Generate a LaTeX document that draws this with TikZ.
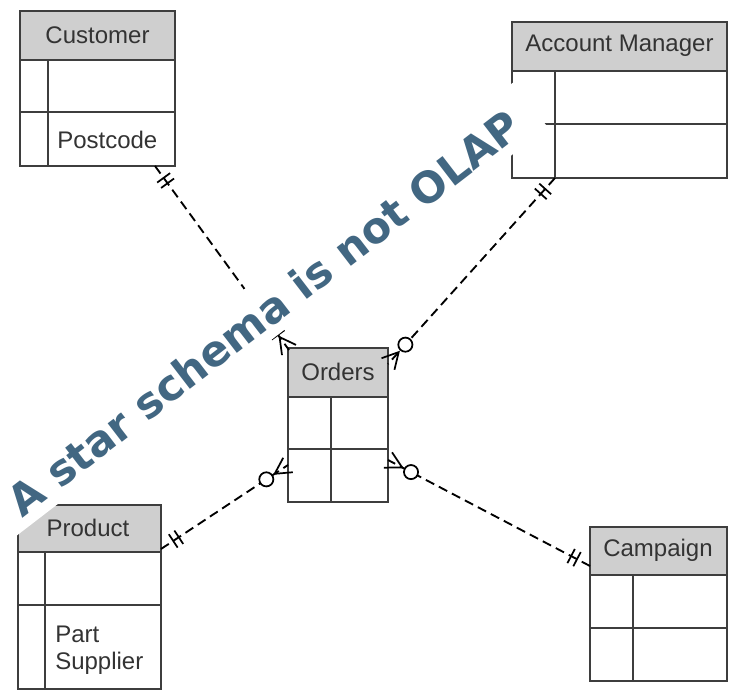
\documentclass[tikz,border=0pt]{standalone}
\usepackage{fontspec}
\setmainfont{Liberation Sans}
\newfontfamily\bannerfont{DejaVu Sans}
\usepackage{xcolor}
\usepackage{tikz}
\usetikzlibrary{calc}

\definecolor{headgray}{RGB}{207,207,207}
\definecolor{edgegray}{RGB}{62,62,62}
\definecolor{bannerblue}{RGB}{66,103,130}

\tikzset{
  entity/.style={draw=edgegray, line width=1.1pt},
  headfill/.style={fill=headgray},
  headtext/.style={text=black!80, font=\fontsize{18pt}{21pt}\selectfont, inner sep=0.75pt},
  attrtext/.style={headtext, anchor=west},
  rel/.style={line width=1.4pt, dash pattern=on 7pt off 4pt},
  crowline/.style={line width=1.3pt, solid},
  banner/.style={fill=white, inner xsep=16pt, inner ysep=1pt, text=bannerblue,
    text height=34pt, text depth=6.5pt,
    font=\bannerfont\bfseries\fontsize{32pt}{38pt}\selectfont}
}

% double bar ("exactly one") near #1 on the line #1 -- #2
\newcommand{\oneMark}[2]{%
  \foreach \d in {11pt,16pt}{%
    \coordinate (t) at ($(#1)!\d!(#2)$);
    \draw[crowline] ($(t)!6pt!90:(#2)$) -- ($(t)!6pt!-90:(#2)$);
  }%
}
% crow's foot ("many") at #1
\newcommand{\manyMark}[2]{%
  \coordinate (v) at ($(#1)!12pt!(#2)$);
  \draw[crowline] ($(#1)!6.5pt!90:(#2)$) -- (v) -- ($(#1)!6.5pt!-90:(#2)$);
}
% circle ("zero") beyond the crow's foot
\newcommand{\zeroMark}[2]{%
  \draw[crowline, fill=white] ($(#1)!19.5pt!(#2)$) circle[radius=5.3pt];
}
% single bar ("one") beyond the crow's foot
\newcommand{\barMark}[2]{%
  \coordinate (t) at ($(#1)!14pt!(#2)$);
  \draw[crowline] ($(t)!6pt!90:(#2)$) -- ($(t)!6pt!-90:(#2)$);
}

\begin{document}
\begin{tikzpicture}[x=0.75pt,y=0.75pt,yscale=-1,xscale=1]
\useasboundingbox (0,0) rectangle (741,692);

%Entity Customer
\fill[headfill] (20,11) rectangle (175,60);
\draw[entity] (20,60) -- (175,60) (20,112) -- (175,112) (48,60) -- (48,166);
\draw[entity] (20,11) rectangle (175,166);
\node[headtext] (customer) at (97.5,35) {Customer};
\node[attrtext] (postcode) at (56,140) {Postcode};

%Entity Account Manager
\fill[headfill] (512,22) rectangle (727,71);
\draw[entity] (512,71) -- (727,71) (512,124) -- (727,124) (555,71) -- (555,178);
\draw[entity] (512,22) rectangle (727,178);
\node[headtext] (accmanager) at (619.5,46) {Account Manager};

%Entity Orders
\fill[headfill] (288,348) rectangle (388,397);
\draw[entity] (288,397) -- (388,397) (288,449) -- (388,449) (331,397) -- (331,502);
\draw[entity] (288,348) rectangle (388,502);
\node[headtext] (orders) at (338,372) {Orders};

%Entity Product
\fill[headfill] (18,505) rectangle (161,552);
\draw[entity] (18,552) -- (161,552) (18,605) -- (161,605) (45,552) -- (45,689);
\draw[entity] (18,505) rectangle (161,689);
\node[headtext] (product) at (88,528) {Product};
\node[attrtext] (part) at (54,634) {Part};
\node[attrtext] (supplier) at (54,663) {Supplier};

%Entity Campaign
\fill[headfill] (590,527) rectangle (727,575);
\draw[entity] (590,575) -- (727,575) (590,628) -- (727,628) (633,575) -- (633,681);
\draw[entity] (590,527) rectangle (727,681);
\node[headtext] (campaign) at (658,550) {Campaign};

%Connector ends
\coordinate (customer-s) at (155,166);
\coordinate (orders-nw) at (289,350);
\coordinate (accmanager-s) at (555,178);
\coordinate (orders-ne) at (388,364);
\coordinate (product-e) at (161,549);
\coordinate (orders-w) at (288,465);
\coordinate (orders-se) at (388,460);
\coordinate (campaign-w) at (590,566);

%Straight Lines
\draw[rel] (customer-s) -- (orders-nw);
\oneMark{customer-s}{orders-nw}
\manyMark{orders-nw}{customer-s}
\barMark{orders-nw}{customer-s}

\draw[rel] (accmanager-s) -- (orders-ne);
\oneMark{accmanager-s}{orders-ne}
\manyMark{orders-ne}{accmanager-s}
\zeroMark{orders-ne}{accmanager-s}

\draw[rel] (product-e) -- (orders-w);
\oneMark{product-e}{orders-w}
\manyMark{orders-w}{product-e}
\zeroMark{orders-w}{product-e}

\draw[rel] (campaign-w) -- (orders-se);
\oneMark{campaign-w}{orders-se}
\manyMark{orders-se}{campaign-w}
\zeroMark{orders-se}{campaign-w}

% Text Node
\node[banner, anchor=base west, rotate=37.55] (slogan) at (5,532) {A star schema is not OLAP};
\end{tikzpicture}
\end{document}
